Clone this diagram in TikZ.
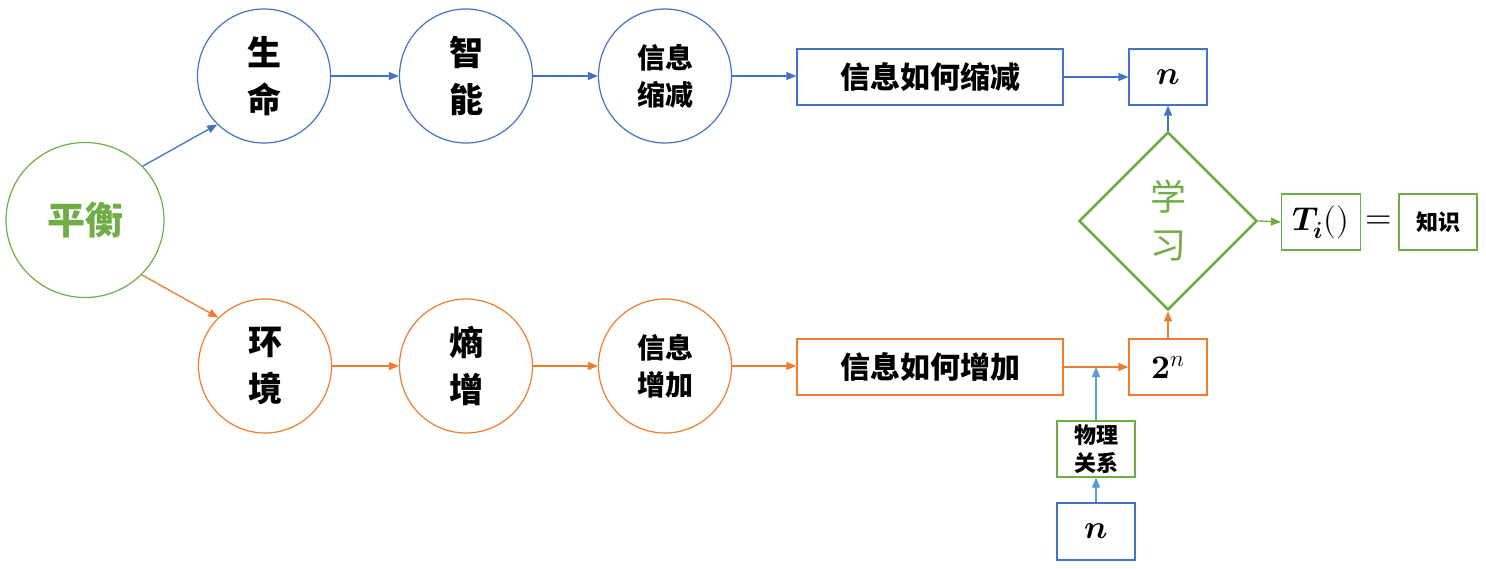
\documentclass[tikz,border=0pt]{standalone}
\usepackage{fontspec}
\usepackage{unicode-math}
\setmathfont{Latin Modern Math}
\newfontfamily\cjk{Noto Sans CJK SC}
\usetikzlibrary{shapes.geometric,arrows.meta}
\definecolor{cblue}{HTML}{4472C4}
\definecolor{corange}{HTML}{ED7D31}
\definecolor{cgreen}{HTML}{70AD47}
\definecolor{clblue}{HTML}{5B9BD5}
\begin{document}
\begin{tikzpicture}[x=1pt,y=-1pt,
  circ/.style={ellipse,draw,line width=1.2pt,minimum width=133pt,minimum height=134pt,inner sep=0pt,align=center},
  bigtxt/.style={font=\cjk\bfseries\fontsize{34}{47}\selectfont},
  midtxt/.style={font=\cjk\bfseries\fontsize{28}{37}\selectfont},
  rbox/.style={draw,line width=1.3pt,minimum height=56pt,inner sep=0pt},
  recttxt/.style={font=\cjk\bfseries\fontsize{30}{36}\selectfont},
  mathtxt/.style={font=\fontsize{33}{36}\selectfont},
  arr/.style={-{Triangle[length=10pt,width=8pt]},line width=1.3pt}]
\useasboundingbox (0,0) rectangle (1486,568);
% left
\node[circ,draw=cgreen,minimum width=158pt,minimum height=155pt,text=cgreen,font=\cjk\bfseries\fontsize{38}{40}\selectfont] (ph) at (85,220) {平衡};
% top row
\node[circ,draw=cblue,bigtxt] (sm) at (264,76) {生\\命};
\node[circ,draw=cblue,bigtxt] (zn) at (466,76) {智\\能};
\node[circ,draw=cblue,midtxt] (xs) at (665,76) {信息\\缩减};
\node[rbox,draw=cblue,minimum width=266pt,recttxt] (rs) at (930,77) {信息如何缩减};
\node[rbox,draw=cblue,minimum width=78pt,mathtxt] (ns) at (1168,77) {$\symbfit{n}$};
% bottom row
\node[circ,draw=corange,bigtxt] (hj) at (265,366) {环\\境};
\node[circ,draw=corange,bigtxt] (sz) at (466,366) {熵\\增};
\node[circ,draw=corange,midtxt] (xz) at (665,366) {信息\\增加};
\node[rbox,draw=corange,minimum width=266pt,recttxt] (rz) at (930,367) {信息如何增加};
\node[rbox,draw=corange,minimum width=78pt,mathtxt] (er) at (1168,367) {$\symbf{2}^{\symit{n}}$};
% learning
\node[diamond,draw=cgreen,line width=2.6pt,minimum width=178pt,minimum height=178pt,inner sep=0pt,align=center,text=cgreen,font=\cjk\fontsize{36}{48}\selectfont] (xx) at (1168,221) {学\\习};
\node[rbox,draw=cgreen,minimum width=79pt,font=\fontsize{33}{36}\selectfont] (tb) at (1321,222) {$\symbfit{T}_{\symbfit{i}}()$};
\node[font=\fontsize{34}{34}\selectfont,inner sep=0pt] (eq) at (1379,222) {$=$};
\node[rbox,draw=cgreen,minimum width=78pt,font=\cjk\bfseries\fontsize{22}{24}\selectfont] (zs) at (1438,222) {知识};
% physics
\node[rbox,draw=cgreen,minimum width=78pt,align=center,font=\cjk\bfseries\fontsize{22}{28}\selectfont] (wl) at (1096,449) {物理\\关系};
\node[rbox,draw=cblue,minimum width=78pt,minimum height=57pt,mathtxt] (nb) at (1096,531.5) {$\symbfit{n}$};
% arrows
\draw[arr,cblue] (ph.43) -- (sm.226);
\draw[arr,corange] (ph.-44) -- (hj.134);
\draw[arr,cblue] (sm) -- (zn);
\draw[arr,cblue] (zn) -- (xs);
\draw[arr,cblue] (xs.east) -- (xs.east -| rs.west);
\draw[arr,cblue] (rs) -- (ns);
\draw[arr,corange] (hj) -- (sz);
\draw[arr,corange] (sz) -- (xz);
\draw[arr,corange] (xz.east) -- (xz.east -| rz.west);
\draw[arr,corange] (rz) -- (er);
\draw[arr,cblue] (xx.north) -- (ns.south);
\draw[arr,corange] (er.north) -- (xx.south);
\draw[arr,cgreen] (xx.east) -- (tb.west);
\draw[arr,clblue] (nb.north) -- (wl.south);
\draw[arr,clblue] (wl.north) -- (wl.north |- er.west);
\end{tikzpicture}
\end{document}
